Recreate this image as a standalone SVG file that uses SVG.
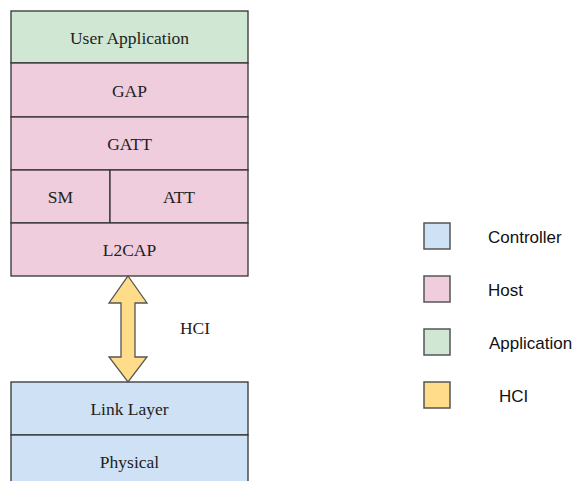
<svg xmlns="http://www.w3.org/2000/svg" width="577" height="481" viewBox="0 0 577 481">
<style>
.box{stroke:#333;stroke-width:1.3}
.app{fill:#cfe7d3}
.host{fill:#efcddd}
.ctrl{fill:#cfe1f5}
.hci{fill:#ffdc8a}
.lbl{font-family:"Liberation Serif",serif;font-size:17.5px;fill:#222;text-anchor:middle}
.leg{font-family:"Liberation Sans",Arial,sans-serif;font-size:17px;fill:#111}
.lbox{stroke:#555;stroke-width:1.5}
</style>
<rect width="577" height="481" fill="#fff"/>
<g id="user-application"><rect class="box app" x="11" y="11" width="237" height="52"/><text class="lbl" x="129.5" y="43.5">User Application</text></g>
<g id="gap"><rect class="box host" x="11" y="63" width="237" height="54"/><text class="lbl" x="129.5" y="96.5">GAP</text></g>
<g id="gatt"><rect class="box host" x="11" y="117" width="237" height="53"/><text class="lbl" x="129.5" y="149.5">GATT</text></g>
<g id="sm"><rect class="box host" x="11" y="170" width="99" height="53"/><text class="lbl" x="60.5" y="202.5">SM</text></g>
<g id="att"><rect class="box host" x="110" y="170" width="138" height="53"/><text class="lbl" x="179" y="202.5">ATT</text></g>
<g id="l2cap"><rect class="box host" x="11" y="223" width="237" height="53"/><text class="lbl" x="129.5" y="255.5">L2CAP</text></g>
<g id="link-layer"><rect class="box ctrl" x="11" y="382" width="237" height="53"/><text class="lbl" x="129.5" y="414.5">Link Layer</text></g>
<g id="physical"><rect class="box ctrl" x="11" y="435" width="237" height="53"/><text class="lbl" x="129.5" y="467.5">Physical</text></g>
<g id="connectors">
<path class="hci" d="M128 276 L147 303 L135 303 L135 357 L147 357 L128 382 L109 357 L121 357 L121 303 L109 303 Z" stroke="#555" stroke-width="1.3" stroke-linejoin="miter"/>
<text class="lbl" x="195" y="334">HCI</text>
</g>
<g id="legend">
<rect class="lbox ctrl" x="424" y="223" width="26" height="26"/><text class="leg" x="488" y="243">Controller</text>
<rect class="lbox host" x="424" y="276" width="26" height="26"/><text class="leg" x="488" y="296">Host</text>
<rect class="lbox app" x="424" y="329" width="26" height="26"/><text class="leg" x="489" y="349">Application</text>
<rect class="lbox hci" x="424" y="382" width="26" height="26"/><text class="leg" x="499" y="402">HCI</text>
</g>
</svg>
